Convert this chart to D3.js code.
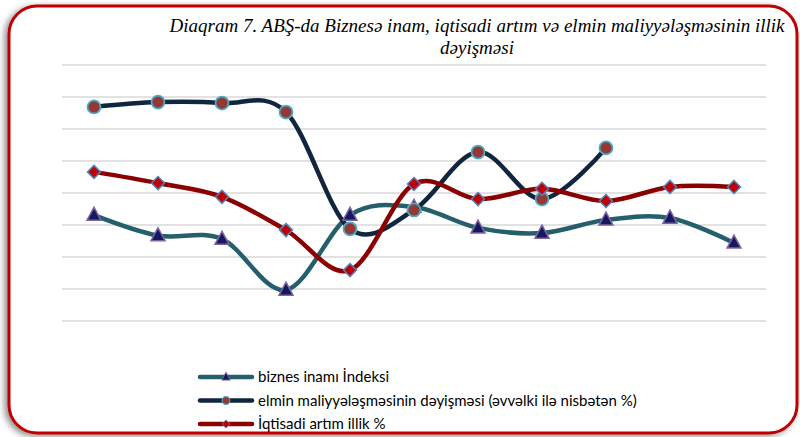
<!DOCTYPE html>
<html>
<head>
<meta charset="utf-8">
<script src="https://cdn.jsdelivr.net/npm/d3@7"></script>
<style>
  body { margin: 0; background: #fff; }
  svg { display: block; }
</style>
</head>
<body>
<script>
// years are not printed on the chart, only 11 positions
var categories = ['1', '2', '3', '4', '5', '6', '7', '8', '9', '10', '11']
var biznes = [3.31, 2.67, 2.56, 0.97, 3.31, 3.56, 2.91, 2.75, 3.16, 3.22, 2.44]
var elmin = [6.69, 6.84, 6.81, 6.53, 2.88, 3.47, 5.28, 3.81, 5.41]
var iqtisadi = [4.66, 4.31, 3.88, 2.84, 1.59, 4.28, 3.81, 4.13, 3.75, 4.19, 4.19]
var gridTicks = [0, 1, 2, 3, 4, 5, 6, 7, 8]
var seriesNames = [
  'biznes inamı İndeksi',
  'elmin maliyyələşməsinin dəyişməsi (əvvəlki ilə nisbətən %)',
  'İqtisadi artım illik %'
]

var width = 800
var height = 437

var svg = d3.select('body').append('svg')
  .attr('width', width)
  .attr('height', height)

var defs = svg.append('defs')
var f = defs.append('filter').attr('id', 'shadow')
  .attr('x', '-5%').attr('y', '-5%').attr('width', '110%').attr('height', '110%')
f.append('feDropShadow')
  .attr('dx', -3).attr('dy', 2)
  .attr('stdDeviation', 3)
  .attr('flood-color', '#000').attr('flood-opacity', 0.45)

// frame
svg.append('rect')
  .attr('x', 9).attr('y', 6)
  .attr('width', 788).attr('height', 427)
  .attr('rx', 28).attr('ry', 28)
  .attr('fill', '#fff')
  .attr('stroke', '#c00000')
  .attr('stroke-width', 3)
  .attr('filter', 'url(#shadow)')

// title
var title = svg.append('text')
  .attr('font-family', 'Liberation Serif, serif')
  .attr('font-style', 'italic')
  .attr('font-size', 19)
  .attr('fill', '#000')
  .attr('text-anchor', 'middle')
title.append('tspan').attr('x', 477).attr('y', 32)
  .text('Diaqram 7. ABŞ-da Biznesə inam, iqtisadi artım və elmin maliyyələşməsinin illik')
title.append('tspan').attr('x', 477).attr('y', 54).text('dəyişməsi')

var x = d3.scalePoint().domain(categories).range([62, 766]).padding(0.5)
var y = d3.scaleLinear().domain([0, 8]).range([321, 65])

// gridlines
svg.append('g')
  .selectAll('line')
  .data(gridTicks)
  .enter()
  .append('line')
  .attr('x1', 62).attr('x2', 766)
  .attr('y1', function (d) { return y(d) })
  .attr('y2', function (d) { return y(d) })
  .attr('stroke', '#d9d9d9')
  .attr('stroke-width', 1.5)

var line = d3.line()
  .x(function (d, i) { return x(categories[i]) })
  .y(function (d) { return y(d) })
  .curve(d3.curveCardinal.tension(0))

var series = [
  { name: seriesNames[0], values: biznes, color: '#255e6c', marker: 'tri' },
  { name: seriesNames[1], values: elmin, color: '#10253f', marker: 'circle' },
  { name: seriesNames[2], values: iqtisadi, color: '#8b0000', marker: 'diamond' }
]

function drawMarker (g, type, cx, cy, s) {
  if (type === 'tri') {
    var h = 13 * s, w = 14 * s
    g.append('path')
      .attr('d', 'M' + cx + ',' + (cy - h * 0.6) + 'L' + (cx + w / 2) + ',' + (cy + h * 0.4) +
        'L' + (cx - w / 2) + ',' + (cy + h * 0.4) + 'Z')
      .attr('fill', '#14185e')
      .attr('stroke', '#8064a2')
      .attr('stroke-width', 1.5 * s)
  } else if (type === 'circle') {
    g.append('circle')
      .attr('cx', cx).attr('cy', cy).attr('r', 6.5 * s)
      .attr('fill', '#953735')
      .attr('stroke', '#4bacc6')
      .attr('stroke-width', 1.8 * s)
  } else {
    var r = 6.5 * s
    g.append('path')
      .attr('d', 'M' + cx + ',' + (cy - r) + 'L' + (cx + r) + ',' + cy + 'L' + cx + ',' + (cy + r) +
        'L' + (cx - r) + ',' + cy + 'Z')
      .attr('fill', '#c00000')
      .attr('stroke', '#4f81bd')
      .attr('stroke-width', 1.5 * s)
  }
}

// draw lines in order: biznes, elmin, iqtisadi
series.forEach(function (s) {
  svg.append('path')
    .datum(s.values)
    .attr('d', line)
    .attr('fill', 'none')
    .attr('stroke', s.color)
    .attr('stroke-width', 4.5)
    .attr('stroke-linecap', 'round')
})
series.forEach(function (s) {
  var g = svg.append('g')
  s.values.forEach(function (v, i) {
    drawMarker(g, s.marker, x(categories[i]), y(v), 1)
  })
})

// legend
var legend = svg.append('g')
series.forEach(function (s, i) {
  var ly = 377 + i * 23.5
  legend.append('line')
    .attr('x1', 200).attr('x2', 252)
    .attr('y1', ly).attr('y2', ly)
    .attr('stroke', s.color)
    .attr('stroke-width', 4.5)
    .attr('stroke-linecap', 'round')
  drawMarker(legend, s.marker, 226, ly, 0.6)
  legend.append('text')
    .attr('x', 258).attr('y', ly + 5)
    .attr('font-family', 'Lato, sans-serif')
    .attr('font-size', 15)
    .attr('fill', '#000')
    .text(s.name)
})
</script>
</body>
</html>
